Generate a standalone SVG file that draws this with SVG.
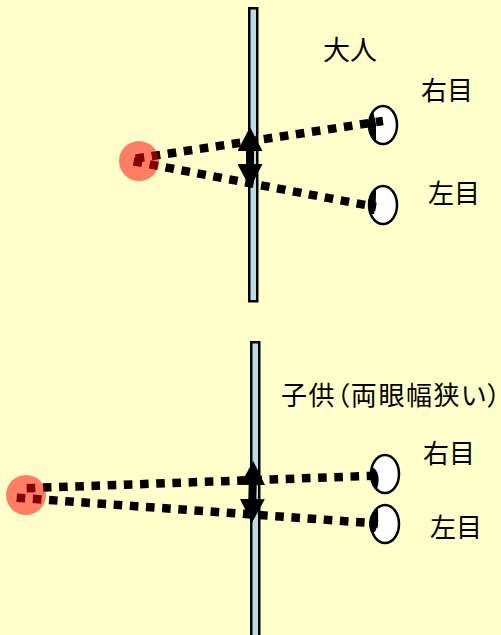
<svg xmlns="http://www.w3.org/2000/svg" width="501" height="635" viewBox="0 0 501 635">
<style>
.bar{fill:#b9dde3;stroke:#000;stroke-width:2.5}
.eye{fill:#fff;stroke:#000;stroke-width:2.5}
.pupil{fill:#000}
.ray{fill:none;stroke:#000;stroke-width:8.5;stroke-dasharray:8.6 7.6}
.obj{fill:#f00;fill-opacity:.5}
.dbl{fill:none;stroke:#000;stroke-width:8;marker-start:url(#h);marker-end:url(#h)}
text{font-family:"Noto Sans CJK JP","Liberation Sans",sans-serif;font-size:26px;fill:#000}
.wide{font-size:27px}
.palt{font-feature-settings:"palt";letter-spacing:1.6px}
</style>
<defs>
<marker id="h" viewBox="0 0 24 25" markerWidth="24" markerHeight="25" markerUnits="userSpaceOnUse" refX="14" refY="12.5" orient="auto-start-reverse"><path d="M0 0L24 12.5L0 25Z" fill="#000"/></marker>
</defs>
<rect width="501" height="635" fill="#ffffcc"/>
<g id="bar-adult"><rect class="bar" x="249.25" y="8.25" width="8" height="293"/></g>
<g id="bar-child"><rect class="bar" x="251.25" y="342.25" width="8" height="295"/></g>
<g id="eye-adult-right"><ellipse class="eye" cx="383" cy="125" rx="14" ry="19"/><path class="pupil" d="M373 111C367 120 367 132 376 142L376 124Z"/></g>
<g id="eye-adult-left"><ellipse class="eye" cx="383" cy="205" rx="14" ry="19"/><path class="pupil" d="M376 189C367 196 366 206 371 214L374 214C376 205 376 197 376 189Z"/></g>
<g id="eye-child-right"><ellipse class="eye" cx="385" cy="474" rx="14" ry="19"/><path class="pupil" d="M372 467C379 470 380 480 377 489C370 484 369 474 372 467Z"/></g>
<g id="eye-child-left"><ellipse class="eye" cx="385" cy="524" rx="14" ry="19"/><path class="pupil" d="M377 508C369 514 367 524 371 532L375 532C379 524 378 516 378 508Z"/></g>
<g id="connectors">
<path class="ray" d="M135.7 158.6L383 121"/>
<path class="ray" d="M133.7 161.3L376 207"/>
<path class="ray" d="M26.7 488.2L382 475.5"/>
<path class="ray" d="M16.7 497.7L378 523.5"/>
<path class="dbl" d="M250 137L250 178"/>
<path class="dbl" d="M253 471L252 513"/>
</g>
<g id="object-adult"><circle class="obj" cx="139" cy="161" r="20"/></g>
<g id="object-child"><circle class="obj" cx="26" cy="495" r="20"/></g>
<g id="labels">
<text class="wide" x="323" y="60">大人</text>
<text x="421" y="100">右目</text>
<text x="428" y="203">左目</text>
<text class="palt" x="281" y="405">子供（両眼幅狭い）</text>
<text x="423" y="463">右目</text>
<text x="430" y="537">左目</text>
</g>
</svg>
